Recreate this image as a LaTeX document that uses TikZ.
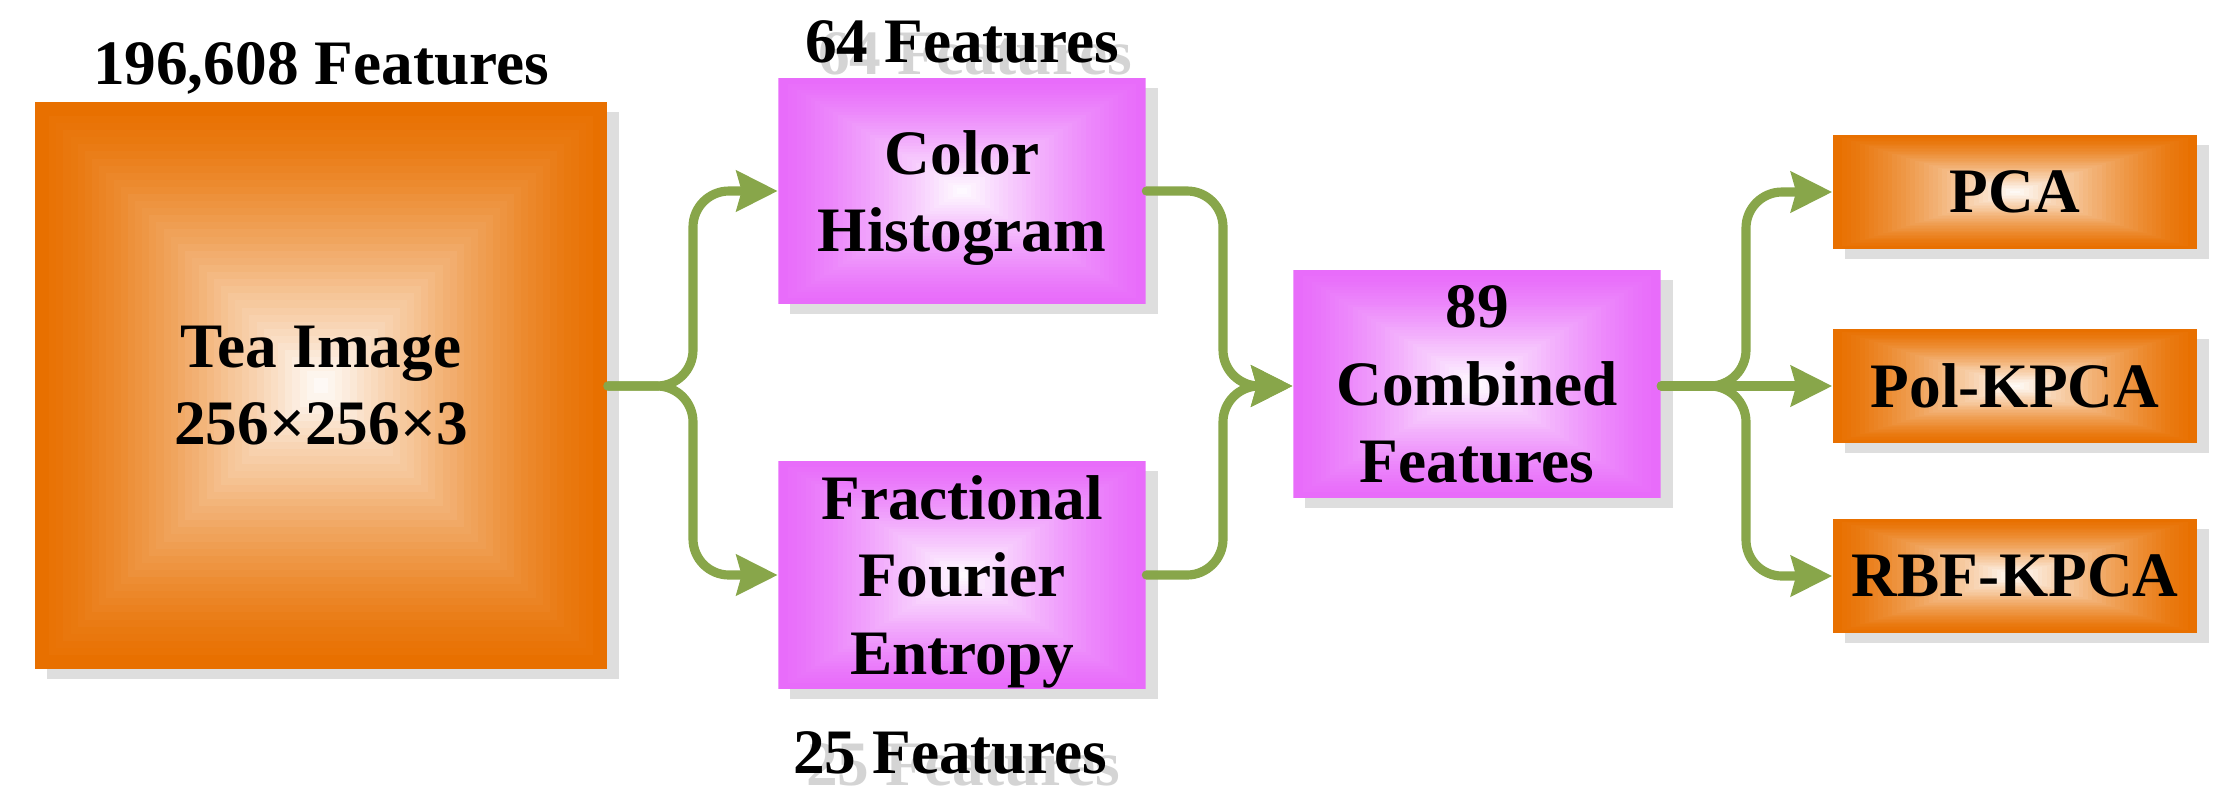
\documentclass[tikz,border=0pt]{standalone}
\usepackage{fontspec}
\setmainfont{Liberation Serif}
\usetikzlibrary{arrows.meta,calc,shadows}

\definecolor{teaorange}{RGB}{232,112,0}
\definecolor{featpink}{RGB}{232,108,250}
\definecolor{linkgreen}{RGB}{136,166,74}
\definecolor{ghostgray}{RGB}{212,212,212}

\newcommand\diagfont{\fontsize{18}{22}\selectfont\bfseries}

\tikzset{
  gradfill/.style={path picture={
      \foreach \k in {0,...,39}{
        \pgfmathtruncatemacro\mix{100*(\k/40)^1.3}
        \pgfmathsetmacro\shr{1-\k/40}
        \fill[white!\mix!#1]
          ($(path picture bounding box.center)!\shr!(path picture bounding box.south west)$)
          rectangle
          ($(path picture bounding box.center)!\shr!(path picture bounding box.north east)$);
      }}},
  stagebox/.style={inner sep=0pt, align=center, font=\diagfont, gradfill=#1, text depth=0pt,
    drop shadow={shadow xshift=1.2mm, shadow yshift=-1mm, fill=black!13, opacity=1}},
  featlabel/.style={font=\diagfont, inner sep=0pt, anchor=base},
  link/.style={draw=linkgreen, line width=2.6pt, line cap=round, rounded corners=0.36cm},
  tolink/.style={link, -{Stealth[length=0.41cm, width=0.40cm, inset=0.05cm]}}
}

\begin{document}
\begin{tikzpicture}[x=0.01cm, y=-0.01cm]
  \useasboundingbox (0,0) rectangle (2221,808);

  % boxes
  \node[stagebox=teaorange, minimum width=5.72cm, minimum height=5.67cm] (img) at (321,385.5) {Tea Image\\256×256×3};
  \node[stagebox=featpink, minimum width=3.67cm, minimum height=2.25cm] (hist) at (962,191) {Color\\Histogram};
  \node[stagebox=featpink, minimum width=3.67cm, minimum height=2.28cm] (frfe) at (962,575) {Fractional\\Fourier\\Entropy};
  \node[stagebox=featpink, minimum width=3.67cm, minimum height=2.27cm] (comb) at (1477,384) {89\\Combined\\Features};
  \node[stagebox=teaorange, minimum width=3.64cm, minimum height=1.14cm] (pca) at (2015,192) {PCA};
  \node[stagebox=teaorange, minimum width=3.64cm, minimum height=1.14cm] (pol) at (2015,386) {Pol-KPCA};
  \node[stagebox=teaorange, minimum width=3.64cm, minimum height=1.14cm] (rbf) at (2015,576) {RBF-KPCA};

  % feature counts
  \node[featlabel] (nimg) at (321,84) {196,608 Features};
  \node[featlabel, text=ghostgray] (nhistghost) at (975,74) {64 Features};
  \node[featlabel] (nhist) at (962,62) {64 Features};
  \node[featlabel, text=ghostgray] (nfrfeghost) at (963,785) {25 Features};
  \node[featlabel] (nfrfe) at (950,773) {25 Features};

  % connectors
  \coordinate (split) at (693,386);
  \coordinate (merge) at (1223,386);
  \coordinate (fan) at (1746,386);
  \draw[tolink] (img.east |- split) -- (split) |- (hist.west);
  \draw[tolink] (img.east |- split) -- (split) |- (frfe.west);
  \draw[tolink] (hist.east) -| (merge) -- (comb.west |- merge);
  \draw[tolink] (frfe.east) -| (merge) -- (comb.west |- merge);
  \draw[tolink] (comb.east |- fan) -- (fan) |- (pca.west);
  \draw[tolink] (comb.east |- fan) -- (pol.west);
  \draw[tolink] (comb.east |- fan) -- (fan) |- (rbf.west);
\end{tikzpicture}
\end{document}
